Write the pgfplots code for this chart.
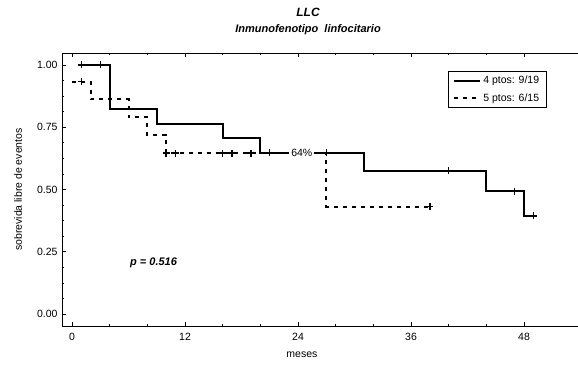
\documentclass[border=0pt]{standalone}
\usepackage{pgfplots}
\pgfplotsset{compat=1.18}
\usepackage{fontspec}
\setmainfont{Liberation Sans}
\begin{document}
\begin{tikzpicture}[x=1pt,y=1pt]
\useasboundingbox (-62,-44) rectangle (516,326);
\begin{axis}[
  scale only axis,
  width=516pt, height=273pt,
  anchor=south west, at={(0,0)},
  xmin=-1.062, xmax=53.73,
  ymin=-0.048, ymax=1.048,
  xtick={0,12,24,36,48},
  ytick={0,0.25,0.5,0.75,1},
  minor x tick num=2,
  minor y tick num=3,
  tick align=inside,
  major tick length=4pt,
  minor tick length=2.5pt,
  xtick pos=both, ytick pos=left,
  xticklabel pos=bottom,
  tick style={black, line width=0.6pt},
  axis line style={line width=0.8pt},
  /pgf/number format/assume math mode=true,
  yticklabel style={/pgf/number format/fixed, /pgf/number format/fixed zerofill, /pgf/number format/precision=2, xshift=-1pt},
  ticklabel style={font=\fontsize{10.5}{12}\selectfont},
  xticklabel style={yshift=-4pt},
  xlabel={meses},
  ylabel={sobrevida libre de eventos},
  label style={font=\fontsize{10.5}{12}\selectfont},
  xlabel style={at={(axis description cs:0.465,0)}, anchor=center, yshift=-29pt},
  ylabel style={at={(axis description cs:0,0.5)}, anchor=center, yshift=44pt},
  legend cell align=left,
  legend style={at={(rel axis cs:0.748,0.934)}, anchor=north west, draw=black, line width=0.6pt,
    font=\fontsize{10.5}{12}\selectfont, row sep=4pt, inner xsep=5pt, inner ysep=3pt},
  legend image code/.code={\draw[#1] (0pt,0pt) -- (26pt,0pt);},
  clip=false,
]
\addplot[const plot mark left, black, line width=2pt, no marks] coordinates {
 (0.7,1) (4,0.8235) (9,0.7647) (16,0.7059) (20,0.6471) (31,0.5752) (44,0.4930) (48,0.3944) (49,0.3944)};
\addlegendentry{4 ptos: 9/19}
\addplot[const plot mark left, black, line width=2pt, dash pattern=on 4pt off 5pt, no marks] coordinates {
 (0,0.9333) (2,0.8615) (6,0.7897) (8,0.7179) (10,0.6462) (27,0.4308) (38,0.4308)};
\addlegendentry{5 ptos: 6/15}
\addplot[only marks, mark=+, mark size=3.5pt, mark options={black, solid, line width=1.4pt}, forget plot] coordinates {
 (1,1) (3,1) (21,0.6471) (27,0.6471) (40,0.5752) (47,0.4930) (49,0.3944)};
\addplot[only marks, mark=+, mark size=3.5pt, mark options={black, solid, line width=1.4pt}, forget plot] coordinates {
 (1,0.9333) (10,0.6462) (11,0.6462) (16,0.6462) (17,0.6462) (19,0.6462) (38,0.4308)};
\node[fill=white, inner xsep=2pt, inner ysep=1pt, font=\fontsize{10.5}{12}\selectfont] at (axis cs:24.4,0.647) {64\%};
\node[anchor=west, font=\fontsize{11}{13}\selectfont\bfseries\itshape] at (axis cs:5.8,0.205) {p = 0.516};
\end{axis}
\node[font=\fontsize{12}{14}\selectfont\bfseries\itshape] at (246,314) {LLC};
\node[font=\fontsize{11}{13}\selectfont\bfseries\itshape] at (246,296) {Inmunofenotipo\ \ linfocitario};
\end{tikzpicture}
\end{document}
